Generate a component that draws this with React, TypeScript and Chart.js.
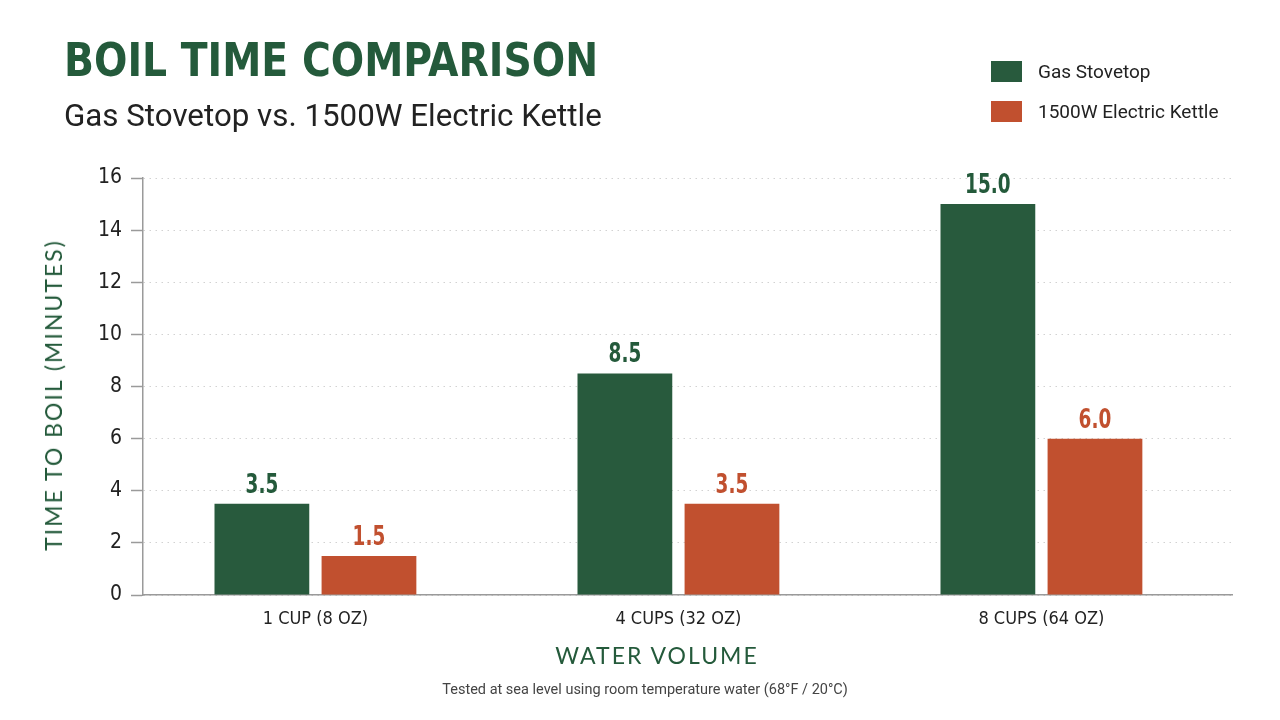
import React, { useEffect, useRef } from 'react';
import { Chart, registerables } from 'chart.js';

Chart.register(...registerables);

// ---- Data ----
const categories = ['1 CUP (8 OZ)', '4 CUPS (32 OZ)', '8 CUPS (64 OZ)'];
const gasStovetop = [3.5, 8.5, 15.0];
const electricKettle = [1.5, 3.5, 6.0];
const seriesNames = ['Gas Stovetop', '1500W Electric Kettle'];
const yMin = 0;
const yMax = 16;
const yStep = 2;

const titleText = 'BOIL TIME COMPARISON';
const subtitleText = 'Gas Stovetop vs. 1500W Electric Kettle';
const yTitle = 'TIME TO BOIL (MINUTES)';
const xTitle = 'WATER VOLUME';
const footnote = 'Tested at sea level using room temperature water (68°F / 20°C)';

// ---- Style ----
const GREEN = '#285a3d';
const ORANGE = '#c1502f';
const TITLE_GREEN = '#245a3b';
const NARROW = "'Liberation Sans Narrow', 'DejaVu Sans Condensed', 'Roboto Condensed', 'Arial Narrow', sans-serif";
const SANS = "Roboto, 'Noto Sans', sans-serif";
const GEO = "Lato, 'Open Sans', sans-serif";

const valueLabels = {
  id: 'valueLabels',
  afterDatasetsDraw(chart: any) {
    const ctx = chart.ctx;
    chart.data.datasets.forEach((ds: any, di: number) => {
      const meta = chart.getDatasetMeta(di);
      meta.data.forEach((bar: any, i: number) => {
        const v = ds.data[i] as number;
        ctx.save();
        ctx.translate(bar.x, bar.y - 11);
        ctx.scale(0.76, 1);
        ctx.font = `bold 27px ${NARROW}`;
        ctx.fillStyle = ds.labelColor;
        ctx.textAlign = 'center';
        ctx.textBaseline = 'alphabetic';
        ctx.fillText(v.toFixed(1), 0, 0);
        ctx.restore();
      });
    });
  },
};

function BoilChart() {
  const ref = useRef<HTMLCanvasElement | null>(null);
  useEffect(() => {
    if (!ref.current) return;
    const chart = new Chart(ref.current, {
      type: 'bar',
      data: {
        labels: categories,
        datasets: [
          {
            label: seriesNames[0],
            data: gasStovetop,
            backgroundColor: GREEN,
            labelColor: TITLE_GREEN,
            categoryPercentage: 0.59,
            barPercentage: 0.885,
          } as any,
          {
            label: seriesNames[1],
            data: electricKettle,
            backgroundColor: ORANGE,
            labelColor: ORANGE,
            categoryPercentage: 0.59,
            barPercentage: 0.885,
          } as any,
        ],
      },
      options: {
        responsive: false,
        animation: false,
        layout: { padding: { left: 0, top: 178, right: 48, bottom: 0 } },
        plugins: {
          legend: { display: false },
          title: { display: false },
          tooltip: { enabled: false },
        },
        scales: {
          x: {
            grid: { display: false },
            border: { display: true, color: '#9a9a9a', width: 1.5 },
            ticks: { color: '#222', font: { family: NARROW, size: 18 }, padding: 6 },
            afterFit: (s: any) => {
              s.height = 125;
            },
            afterBuildTicks: (s: any) => {
              s._startValue = -0.475;
              s._valueRange = 3;
            },
          },
          y: {
            min: yMin,
            max: yMax,
            ticks: { stepSize: yStep, color: '#222', font: { family: NARROW, size: 21 }, padding: 9 },
            grid: {
              color: '#d2d2d2',
              lineWidth: 1,
              drawTicks: true,
              tickLength: 12,
              tickColor: '#9a9a9a',
              tickWidth: 1.5,
            },
            border: { display: true, color: '#9a9a9a', width: 1.5, dash: [1.5, 4.5] },
            afterFit: (s: any) => {
              s.width = 143;
            },
          },
        },
      } as any,
      plugins: [valueLabels],
    });
    return () => chart.destroy();
  }, []);
  return <canvas ref={ref} width={1280} height={720} style={{ position: 'absolute', left: 0, top: 0 }} />;
}

export default function App() {
  return (
    <div
      style={{
        position: 'fixed',
        left: 0,
        top: 0,
        width: 1280,
        height: 720,
        background: '#ffffff',
        overflow: 'hidden',
      }}
    >
      <BoilChart />
      <div
        style={{
          position: 'absolute',
          left: 64,
          top: 36,
          fontFamily: NARROW,
          fontWeight: 'bold',
          fontSize: 47,
          lineHeight: '47px',
          color: TITLE_GREEN,
          whiteSpace: 'nowrap',
          transform: 'scaleX(0.93)',
          transformOrigin: '0 0',
        }}
      >
        {titleText}
      </div>
      <div
        style={{
          position: 'absolute',
          left: 64,
          top: 100,
          fontFamily: SANS,
          fontSize: 31.3,
          lineHeight: '31px',
          color: '#222',
          whiteSpace: 'nowrap',
        }}
      >
        {subtitleText}
      </div>
      {/* Legend */}
      {[GREEN, ORANGE].map((c, i) => (
        <div key={i} style={{ position: 'absolute', left: 991, top: 61 + i * 40, height: 21, display: 'flex', alignItems: 'center' }}>
          <div style={{ width: 31, height: 21, background: c }} />
          <div
            style={{
              marginLeft: 16,
              fontFamily: SANS,
              fontSize: 19,
              lineHeight: '21px',
              color: '#222',
              whiteSpace: 'nowrap',
            }}
          >
            {seriesNames[i]}
          </div>
        </div>
      ))}
      {/* Y axis title */}
      <div
        style={{
          position: 'absolute',
          left: 53,
          top: 395,
          transform: 'translate(-50%, -50%) rotate(-90deg)',
          fontFamily: GEO,
          fontSize: 23,
          letterSpacing: 2,
          color: TITLE_GREEN,
          whiteSpace: 'nowrap',
        }}
      >
        {yTitle}
      </div>
      {/* X axis title */}
      <div
        style={{
          position: 'absolute',
          left: 657,
          top: 655,
          transform: 'translate(-50%, -50%)',
          fontFamily: GEO,
          fontSize: 23,
          letterSpacing: 2,
          color: TITLE_GREEN,
          whiteSpace: 'nowrap',
        }}
      >
        {xTitle}
      </div>
      {/* Footnote */}
      <div
        style={{
          position: 'absolute',
          left: 645,
          top: 689,
          transform: 'translate(-50%, -50%)',
          fontFamily: SANS,
          fontSize: 14.5,
          color: '#444',
          whiteSpace: 'nowrap',
        }}
      >
        {footnote}
      </div>
    </div>
  );
}
